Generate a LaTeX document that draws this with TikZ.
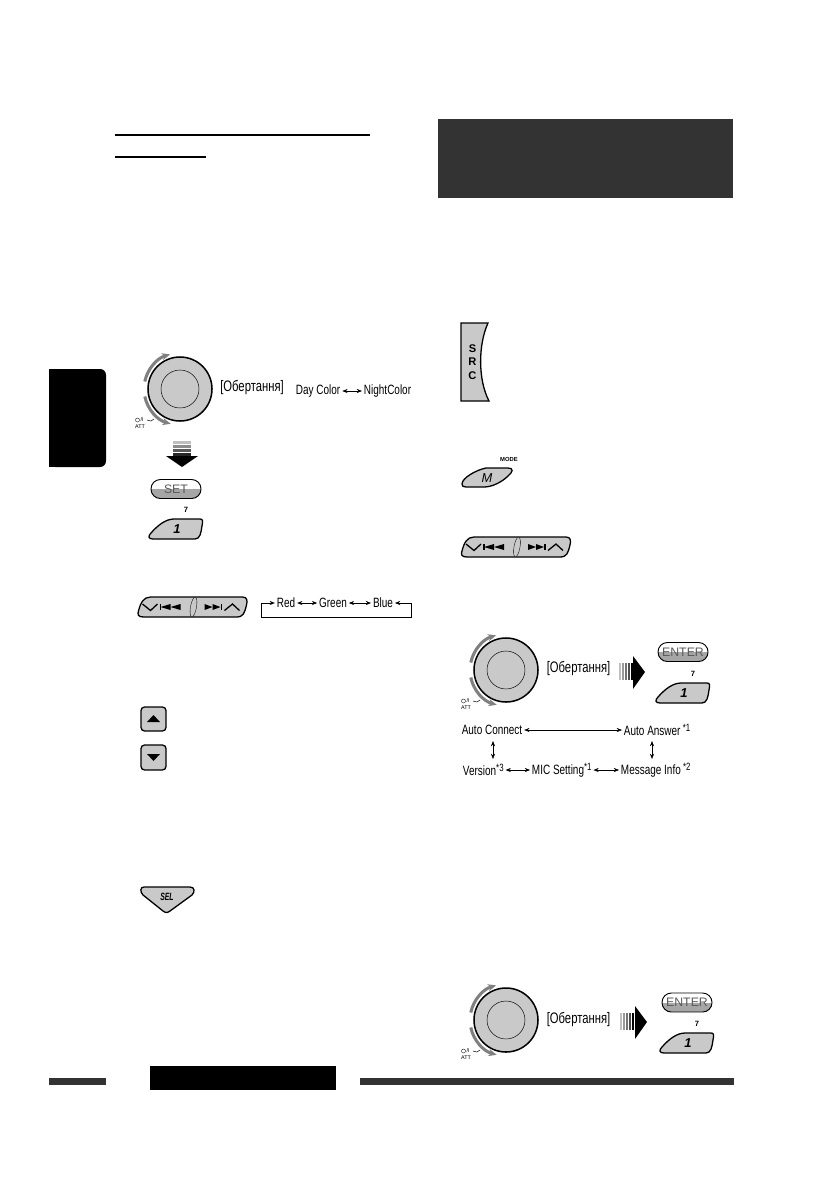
\documentclass[tikz,border=0pt]{standalone}
\usepackage{fontspec}
\setmainfont[FakeStretch=0.74]{Liberation Sans}
\newfontfamily\keyfont{Liberation Sans}
\usetikzlibrary{arrows.meta}
\definecolor{keygray}{HTML}{C9C9C9}
\definecolor{bandgray}{HTML}{333333}
\definecolor{turngray}{HTML}{808080}
\newcommand{\starmark}[1]{\raisebox{3.5pt}{\fontsize{9}{9}\selectfont *#1}}
\tikzset{
  lbl/.style={font=\fontsize{11.5}{13}\selectfont, inner sep=1.5pt},
  turnlbl/.style={font=\fontsize{13}{14}\selectfont, inner sep=1.5pt},
  tiny/.style={font=\keyfont\fontsize{4.6}{5}\selectfont, inner sep=0pt},
  dbl/.style={{Stealth[length=4.5pt,width=3.5pt]}-{Stealth[length=4.5pt,width=3.5pt]}, line width=0.5pt},
  onearrow/.style={-{Stealth[length=4.5pt,width=3.5pt]}, line width=0.5pt},
  turn/.style={turngray, line width=2.6pt, -{Stealth[length=7pt,width=6pt]}},
  keyline/.style={draw=black, line width=1.1pt, fill=keygray},
  knob/.pic={
    \draw[turn] (0,0) ++(-168:36) arc[start angle=-168,end angle=-106,radius=36];
    \draw[turn] (0,0) ++(-192:36) arc[start angle=-192,end angle=-255,radius=36];
    \draw[keyline, line width=1.3pt] (0,0) circle[radius=32];
    \draw[line width=0.4pt] (0,0) circle[radius=19];
    \node[tiny] (att) at (-40,38) {ATT};
    \node[tiny] (pwr) at (-38,31) {/I};
    \draw[line width=0.3pt] (-42.5,31) circle[radius=2];
    \draw[line width=0.4pt] (-33,31) -- (-29,32) -- (-26,30);
  },
  pillkey/.pic={
    \begin{scope}
    \clip[rounded corners=8pt] (-25,-9.5) rectangle (25,9.5);
    \fill[white] (-25,-9.5) rectangle (25,0);
    \fill[gray!70] (-25,0) rectangle (25,9.5);
    \end{scope}
    \draw[line width=0.8pt, rounded corners=8pt] (-25,-9.5) rectangle (25,9.5);
    \node[font=\keyfont\fontsize{10.5}{12}\selectfont, text=black!65, inner sep=0pt] (txt) at (0,0) {#1};
  },
  numkey/.pic={
    \draw[keyline] (-23,10) .. controls (-28,10) and (-28,7) .. (-25,4)
      .. controls (-18,-4) and (-10,-10) .. (-2,-10)
      -- (24,-10) .. controls (27,-10) and (27,-8) .. (26,-3)
      .. controls (25,4) and (24,10) .. (19,10) -- cycle;
    \node[font=\keyfont\bfseries\itshape\fontsize{11}{12}\selectfont, inner sep=0pt] (one) at (1,0) {1};
    \node[font=\keyfont\bfseries\fontsize{6.5}{8}\selectfont, inner sep=0pt] (seven) at (10,-19) {7};
  },
  skipkey/.pic={
    \draw[keyline] (-49,10) .. controls (-55,10) and (-55,7) .. (-54,4)
      .. controls (-52,-4) and (-49,-10) .. (-42,-10) -- (50,-10)
      .. controls (55,-10) and (55,-6) .. (54,-2)
      .. controls (52,6) and (51,10) .. (44,10) -- cycle;
    % chevrons
    \draw[line width=1.1pt] (-50,-3) -- (-42,3.5) -- (-35,-3);
    \draw[line width=1.1pt] (32,3.5) -- (40,-3) -- (47,3.5);
    % previous and next marks
    \draw[line width=0.9pt] (-32,-3) -- (-32,3);
    \fill (-32,0) -- (-22,-3) -- (-22,3) -- cycle;
    \fill (-22,0) -- (-12,-3) -- (-12,3) -- cycle;
    \fill (12,-3) -- (20,0) -- (12,3) -- cycle;
    \fill (20,-3) -- (28,0) -- (20,3) -- cycle;
    \draw[line width=0.9pt] (29,-3) -- (29,3);
    \draw[line width=0.3pt, fill=keygray] (1,0) ellipse[x radius=3, y radius=10, rotate=-10];
  }
}
\begin{document}
\begin{tikzpicture}[x=0.03cm,y=-0.03cm]
\useasboundingbox (0,0) rectangle (840,1190);
\fill[white] (0,0) rectangle (840,1190);
% Heading rules and bands
\draw[line width=0.9pt] (115,135) -- (370,135);
\draw[line width=0.9pt] (115,157) -- (206,157);
\fill[bandgray] (438,119) rectangle (733,198);
\fill[black, rounded corners=5pt] (49,369) -- (106,369) -- (106,467) -- (49,467) [sharp corners] -- cycle;
\fill[black] (49,369) rectangle (70,467);
\fill[bandgray] (49,1078) rectangle (106,1085);
\fill[black] (150,1066) rectangle (336,1090);
\fill[bandgray] (360,1078) rectangle (734,1085);
% Left column, colour setting
\pic (knobA) at (180,389) {knob};
\node[turnlbl] (turnA) at (252,387) {[Обертання]};
\node[lbl,anchor=west] (day) at (294,391) {Day Color};
\node[lbl,anchor=west] (night) at (362,391) {NightColor};
\draw[dbl] (day) -- (night);
% Arrow down
\foreach \y/\c in {441/25,445/45,449/65,453/85} \fill[black!\c] (173,\y) rectangle (191,\y+2.6);
\fill (166,456) -- (198,456) -- (182,467) -- cycle;
\pic (setkey) at (176,489) {pillkey={SET}};
\pic (onekeyA) at (176,529) {numkey};
\pic (skipA) at (192.5,607) {skipkey};
% Red Green Blue loop
\node[lbl] (red) at (286,603) {Red};
\node[lbl] (green) at (333,603) {Green};
\node[lbl] (blue) at (383,603) {Blue};
\coordinate (loopL) at (261,603);
\coordinate (loopR) at (411,603);
\draw[onearrow] (loopL) -- (red);
\draw[dbl] (red) -- (green);
\draw[dbl] (green) -- (blue);
\draw[onearrow] (loopR) -- (blue);
\draw[line width=0.5pt] (loopL) -- ++(0,14) -| (loopR);
% Up and down keys
\draw[keyline, rounded corners=3pt] (141,707) rectangle (166,731);
\fill (147,722) -- (160,722) -- (153.5,715) -- cycle;
\draw[keyline, rounded corners=3pt] (141,745) rectangle (166,770);
\fill (147,754) -- (160,754) -- (153.5,761) -- cycle;
% SEL key
\draw[keyline] (144,887) -- (190,887) .. controls (195,887) and (195,892) .. (192,895)
  -- (170,911) .. controls (167,913) and (166,913) .. (163,911)
  -- (143,895) .. controls (140,892) and (140,887) .. (144,887) -- cycle;
\node[font=\keyfont\bfseries\itshape\fontsize{9}{10}\selectfont, inner sep=0pt, xscale=0.65] (sel) at (167,897) {SEL};
% Right column, SRC key
\draw[keyline] (461,323) -- (488,323) .. controls (478,345) and (478,380) .. (489,401) -- (461,401) -- cycle;
\node[font=\keyfont\bfseries\fontsize{9.5}{11.5}\selectfont, inner sep=0pt, align=center] (src) at (472.5,362) {S\\R\\C};
% M key
\draw[keyline] (462,484) .. controls (462,478) and (476,470) .. (486,468)
  -- (508,468) .. controls (514,468) and (513,472) .. (508,476)
  .. controls (502,482) and (492,487) .. (484,487) -- (466,487) .. controls (463,487) and (462,486) .. (462,484) -- cycle;
\node[font=\keyfont\itshape\fontsize{11}{12}\selectfont, inner sep=0pt] (mkey) at (487,478) {M};
\node[font=\keyfont\bfseries\fontsize{5}{6}\selectfont, inner sep=0pt] (mode) at (509,459) {MODE};
\pic (skipB) at (516,547) {skipkey};
% Bluetooth settings
\pic (knobB) at (506,670) {knob};
\node[turnlbl] (turnB) at (578.5,668) {[Обертання]};
\foreach \x/\c in {619/25,622/40,625/55,628/70,631/100} \fill[black!\c] (\x,663) rectangle (\x+2,680);
\fill (633,656) -- (645,672) -- (633,689) -- cycle;
\pic (enterA) at (683,652) {pillkey={ENTER}};
\pic (onekeyB) at (683,693) {numkey};
\node[lbl] (autoc) at (492,730) {Auto Connect};
\node[lbl,anchor=west] (autoa) at (622,730) {Auto Answer\,\starmark{1}};
\node[lbl,anchor=west] (version) at (461,770) {Version\starmark{3}};
\node[lbl,anchor=west] (mic) at (530,770) {MIC Setting\starmark{1}};
\node[lbl,anchor=west] (msg) at (619,770) {Message Info\,\starmark{2}};
\draw[dbl] (autoc) -- (autoa);
\draw[dbl] (version) -- (mic);
\draw[dbl] (mic) -- (msg);
\coordinate (vA) at (493,741);
\coordinate (vB) at (493,759);
\coordinate (vC) at (652,741);
\coordinate (vD) at (652,759);
\draw[dbl] (vA) -- (vB);
\draw[dbl] (vC) -- (vD);
% Bottom of right column
\pic (knobC) at (506,1020) {knob};
\node[turnlbl] (turnC) at (578.5,1019) {[Обертання]};
\foreach \x/\c in {620/25,623/40,626/55,629/70,632/100} \fill[black!\c] (\x,1013) rectangle (\x+2,1030);
\fill (635,1006) -- (647,1022) -- (635,1039) -- cycle;
\pic (enterB) at (687,1002.5) {pillkey={ENTER}};
\pic (onekeyC) at (687,1043) {numkey};
\end{tikzpicture}
\end{document}
